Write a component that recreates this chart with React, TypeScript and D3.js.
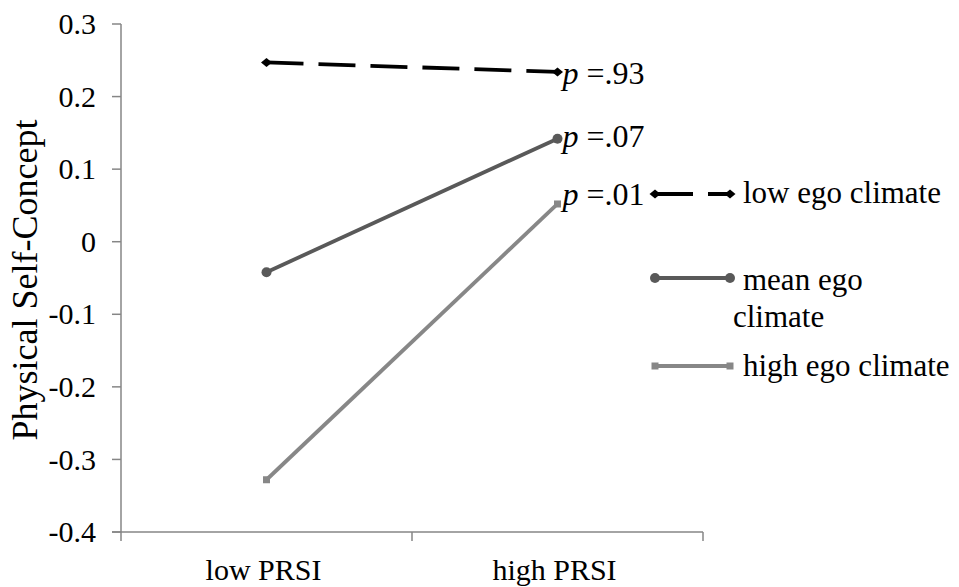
import React from "react";
import * as d3 from "d3";

const categories = ["low PRSI", "high PRSI"];
const seriesNames = ["low ego climate", "mean ego climate", "high ego climate"];
const lowEgo = [0.247, 0.234];
const meanEgo = [-0.042, 0.142];
const highEgo = [-0.328, 0.052];
const pValues = ["=.93", "=.07", "=.01"];
const yTicks = [0.3, 0.2, 0.1, 0, -0.1, -0.2, -0.3, -0.4];

const W = 959;
const H = 587;
const FONT = "Liberation Serif";
const AXIS = "#868686";

const fmt = (t: number) => (t === 0 ? "0" : (t < 0 ? "-" : "") + Math.abs(t).toFixed(1));

export default function App() {
  const x = d3.scaleBand().domain(categories).range([121, 703]);
  const y = d3.scaleLinear().domain([-0.4, 0.3]).range([532, 24]);
  const cx = (c: string) => (x(c) as number) + x.bandwidth() / 2;
  const line = d3
    .line<number>()
    .x((_, i) => cx(categories[i]))
    .y((d) => y(d));

  const series = [
    { name: seriesNames[0], values: lowEgo, color: "#000000", dash: "37,15", width: 3.8, marker: "diamond" },
    { name: seriesNames[1], values: meanEgo, color: "#595959", dash: "", width: 3.8, marker: "circle" },
    { name: seriesNames[2], values: highEgo, color: "#878787", dash: "", width: 3.8, marker: "square" },
  ];

  const marker = (m: string, px: number, py: number, color: string, key: string) => {
    if (m === "diamond")
      return <path key={key} d={`M${px - 5.5},${py} L${px},${py - 4.5} L${px + 5.5},${py} L${px},${py + 4.5} Z`} fill={color} />;
    if (m === "circle") return <circle key={key} cx={px} cy={py} r={5} fill={color} />;
    return <rect key={key} x={px - 3.5} y={py - 3.5} width={7} height={7} fill={color} />;
  };

  const legendY = [194, 278, 366];
  const ts = { fontFamily: FONT, fontSize: 30 } as React.CSSProperties;
  const ls = { fontFamily: FONT, fontSize: 31 } as React.CSSProperties;
  const ps = { fontFamily: FONT, fontSize: 32 } as React.CSSProperties;
  const pDy = [12, 8, 1];

  return (
    <svg width={W} height={H} style={{ position: "absolute", left: 0, top: 0, background: "#fff", fontFamily: FONT }}>
      {/* axes */}
      <line x1={121} x2={121} y1={24} y2={532} stroke={AXIS} strokeWidth={1.5} />
      {yTicks.map((t) => (
        <g key={t}>
          <line x1={112} x2={121} y1={y(t)} y2={y(t)} stroke={AXIS} strokeWidth={1.5} />
          <text x={96} y={y(t)} dy="0.34em" textAnchor="end" style={ts} fill="#000">
            {fmt(t)}
          </text>
        </g>
      ))}
      <line x1={112} x2={703} y1={532} y2={532} stroke={AXIS} strokeWidth={1.5} />
      {[121, 412, 703].map((px) => (
        <line key={px} x1={px} x2={px} y1={532} y2={541} stroke={AXIS} strokeWidth={1.5} />
      ))}
      {categories.map((c) => (
        <text key={c} x={cx(c) - 3} y={580} textAnchor="middle" style={ts}>
          {c}
        </text>
      ))}
      <text transform={`translate(37,280) rotate(-90)`} textAnchor="middle" style={{ fontFamily: FONT, fontSize: 36 }}>
        Physical Self-Concept
      </text>

      {/* series */}
      {series.map((s, si) => (
        <g key={s.name}>
          <path d={line(s.values) as string} fill="none" stroke={s.color} strokeWidth={s.width} strokeDasharray={s.dash || undefined} />
          {s.values.map((v, i) => marker(s.marker, cx(categories[i]), y(v), s.color, `${si}-${i}`))}
        </g>
      ))}

      {/* p labels */}
      {series.map((s, si) => (
        <text key={pValues[si]} x={cx(categories[1]) + 5} y={y(s.values[1]) + pDy[si]} style={ps}>
          <tspan fontStyle="italic">p</tspan>
          {" " + pValues[si]}
        </text>
      ))}

      {/* legend */}
      {series.map((s, si) => (
        <g key={`leg-${s.name}`}>
          <line x1={655} x2={730} y1={legendY[si]} y2={legendY[si]} stroke={s.color} strokeWidth={s.width} strokeDasharray={si === 0 ? "38,15" : undefined} />
          {marker(s.marker, 655, legendY[si], s.color, `lm-${si}-a`)}
          {marker(s.marker, 730, legendY[si], s.color, `lm-${si}-b`)}
        </g>
      ))}
      <text x={743} y={203} style={ls}>low ego climate</text>
      <text x={743} y={290} style={ls}>mean ego</text>
      <text x={733} y={327} style={ls}>climate</text>
      <text x={743} y={376} style={ls}>high ego climate</text>
    </svg>
  );
}
